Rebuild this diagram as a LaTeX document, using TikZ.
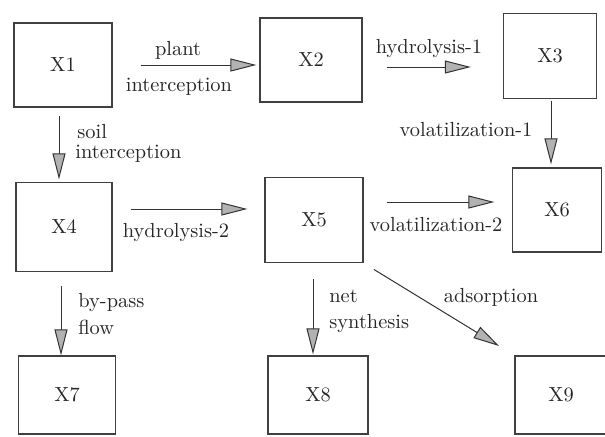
\documentclass[tikz,border=0pt]{standalone}
\usetikzlibrary{arrows.meta}
\begin{document}
\begin{tikzpicture}[x=0.5pt, y=-0.5pt,
    every node/.style={font=\fontsize{10.2pt}{12pt}\selectfont, text=black!85},
    box/.style={draw=black!75, line width=0.65pt, inner sep=0pt},
    flow/.style={draw=black!80, line width=0.5pt, -{Triangle[length=13pt, width=6.5pt, fill=gray!60]}},
    lbl/.style={inner sep=0pt}]
    \fill[white] (0,0) rectangle (605,436);
    \useasboundingbox (0,0) rectangle (605,436);
    \clip (0,0) rectangle (605,436);
    \node[box, minimum width=49pt, minimum height=42pt] (X1) at (63,65) {X1};
    \node[box, minimum width=51pt, minimum height=42pt] (X2) at (311,60) {X2};
    \node[box, minimum width=46.5pt, minimum height=42.5pt] (X3) at (550,56) {X3};
    \node[box, minimum width=48pt, minimum height=44.5pt] (X4) at (64,227) {X4};
    \node[box, minimum width=49pt, minimum height=42.5pt] (X5) at (314,220) {X5};
    \node[box, minimum width=44.5pt, minimum height=42pt] (X6) at (557,210) {X6};
    \node[box, minimum width=48.5pt, minimum height=39pt] (X7) at (67,395) {X7};
    \node[box, minimum width=50pt, minimum height=39pt] (X8) at (318,395) {X8};
    \node[box, minimum width=46pt, minimum height=39pt] (X9) at (561,395) {X9};
    \draw[flow, shorten <=14pt, shorten >=1.5pt] (X1.east |- 0,65) -- (X2.west |- 0,65);
    \draw[flow, shorten <=12pt, shorten >=16pt] (X2.east |- 0,67) -- (X3.west |- 0,67);
    \draw[flow, shorten <=1pt, shorten >=1.5pt] (X3.south -| 551,0) -- (X6.north -| 551,0);
    \draw[flow, shorten <=4pt, shorten >=1.25pt] (X1.south -| 59,0) -- (X4.north -| 59,0);
    \draw[flow, shorten <=9pt, shorten >=8.5pt] (X4.east |- 0,209) -- (X5.west |- 0,209);
    \draw[flow, shorten <=11.5pt, shorten >=8.75pt] (X5.east |- 0,202) -- (X6.west |- 0,202);
    \draw[flow, shorten <=6.75pt] (X4.south -| 61,0) -- (X7.north -| 61,0);
    \draw[flow, shorten <=7.75pt, shorten >=0.5pt] (X5.south -| 313,0) -- (X8.north -| 313,0);
    \draw[flow, shorten <=6pt, shorten >=9pt] (X5.south east) -- (X9.north west);
    \node[lbl, anchor=base] (lPlant) at (178,55) {plant};
    \node[lbl, anchor=base] (lInterA) at (179,91) {interception};
    \node[lbl, anchor=base] (lHydA) at (429,53) {hydrolysis-1};
    \node[lbl, anchor=base] (lVolA) at (466,136) {volatilization-1};
    \node[lbl, anchor=base west] (lSoil) at (77,138) {soil};
    \node[lbl, anchor=base west] (lInterB) at (75,158) {interception};
    \node[lbl, anchor=base] (lHydB) at (176,237) {hydrolysis-2};
    \node[lbl, anchor=base] (lVolB) at (436,231) {volatilization-2};
    \node[lbl, anchor=base west] (lBypass) at (78,307) {by-pass};
    \node[lbl, anchor=base west] (lFlow) at (78,334) {flow};
    \node[lbl, anchor=base west] (lNet) at (329,302) {net};
    \node[lbl, anchor=base west] (lSynth) at (329,328) {synthesis};
    \node[lbl, anchor=base] (lAds) at (491,302) {adsorption};
\end{tikzpicture}
\end{document}
